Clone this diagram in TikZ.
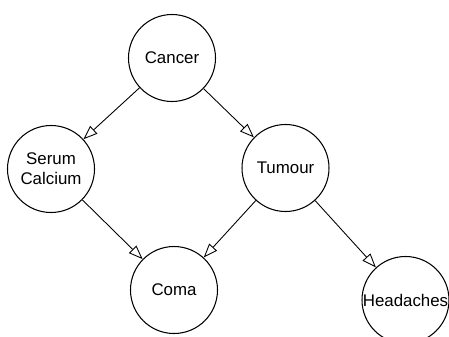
\documentclass[tikz,border=0pt]{standalone}
\usepackage{fontspec}
\setmainfont{Liberation Sans}
\usetikzlibrary{arrows.meta}

\begin{document}
\begin{tikzpicture}[style=thin,>={Triangle[open,length=8pt,width=6pt]},
    var/.style={circle,draw,line width=0.6pt,minimum size=1.74cm,inner sep=0pt,align=center,font=\fontsize{9.6}{11.2}\selectfont}]

    \useasboundingbox (0,0) rectangle (8.98,6.72);

    \node[var] (cancer) at (3.44,5.56) {Cancer};
    \node[var] (serum) at (1.02,3.34) {Serum\\Calcium};
    \node[var] (tumour) at (5.71,3.36) {Tumour};
    \node[var] (coma) at (3.48,0.92) {Coma};
    \node[var] (head) at (8.11,0.72) {Headaches};

    \draw[->,line width=0.5pt] (cancer) to (serum);
    \draw[->,line width=0.5pt] (cancer) to (tumour);
    \draw[->,line width=0.5pt] (serum) to (coma);
    \draw[->,line width=0.5pt] (tumour) to (coma);
    \draw[->,line width=0.5pt] (tumour) to (head);

\end{tikzpicture}
\end{document}
